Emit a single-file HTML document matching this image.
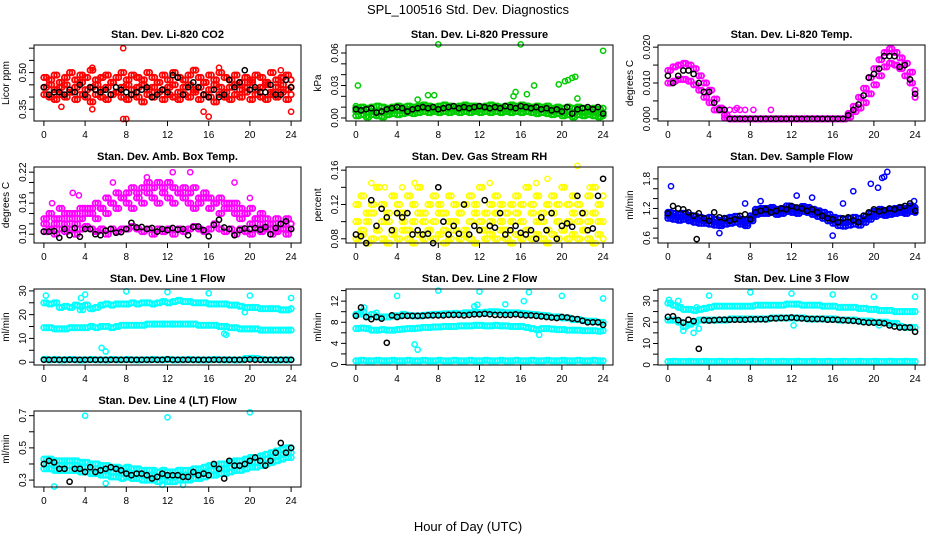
<!DOCTYPE html>
<html><head><meta charset="utf-8"><style>
html,body{margin:0;padding:0;background:#fff;}
svg{display:block;font-family:"Liberation Sans",sans-serif;}
</style></head><body>
<svg id="chart" width="936" height="540" viewBox="0 0 936 540" xmlns="http://www.w3.org/2000/svg">
<text x="468" y="14" text-anchor="middle" font-size="13">SPL_100516  Std. Dev. Diagnostics</text>
<text x="468" y="531" text-anchor="middle" font-size="13">Hour of Day (UTC)</text>
</svg>
<script>
// ---------- data (half-hour grid 0..24) ----------
const co2A=[0.48,0.47,0.49,0.46,0.48,0.50,0.47,0.49,0.48,0.51,0.47,0.48,0.49,0.46,0.48,0.50,0.47,0.49,0.48,0.47,0.50,0.48,0.46,0.49,0.47,0.50,0.48,0.47,0.49,0.51,0.48,0.46,0.49,0.47,0.50,0.48,0.47,0.49,0.46,0.48,0.47,0.49,0.48,0.46,0.50,0.47,0.48,0.49,0.47];
const co2B=[0.44,0.45,0.43,0.44,0.45,0.42,0.44,0.46,0.43,0.44,0.45,0.43,0.44,0.46,0.42,0.44,0.45,0.43,0.44,0.45,0.43,0.44,0.46,0.43,0.44,0.45,0.42,0.44,0.45,0.43,0.44,0.46,0.43,0.45,0.44,0.42,0.44,0.45,0.43,0.44,0.46,0.43,0.44,0.45,0.42,0.44,0.45,0.43,0.44];
const co2C=[0.41,0.40,0.39,0.41,0.40,0.42,0.39,0.41,0.40,0.38,0.41,0.40,0.39,0.41,0.42,0.40,0.39,0.41,0.40,0.38,0.41,0.40,0.42,0.39,0.41,0.40,0.39,0.41,0.40,0.42,0.39,0.41,0.40,0.38,0.41,0.40,0.39,0.41,0.40,0.42,0.39,0.41,0.40,0.39,0.41,0.40,0.42,0.39,0.41];
const co2Black=[0.44,0.41,0.42,0.42,0.41,0.43,0.42,0.45,0.41,0.44,0.43,0.42,0.43,0.41,0.44,0.43,0.42,0.41,0.42,0.43,0.44,0.40,0.41,0.43,0.42,0.49,0.48,0.41,0.44,0.46,0.44,0.41,0.40,0.43,0.40,0.41,0.47,0.44,0.46,0.51,0.43,0.44,0.42,0.42,0.45,0.41,0.41,0.47,0.44];
const co2OutX=[7.7,4.7,17,7.7,8,16,15.5,24,23,1.7,4.7];
const co2OutY=[0.60,0.52,0.52,0.31,0.31,0.32,0.34,0.34,0.51,0.36,0.35];

const presHi=[0.009,0.010,0.009,0.010,0.011,0.010,0.009,0.010,0.011,0.010,0.011,0.010,0.011,0.012,0.011,0.010,0.011,0.012,0.011,0.010,0.011,0.012,0.011,0.011,0.010,0.011,0.012,0.011,0.010,0.011,0.012,0.011,0.012,0.011,0.010,0.011,0.010,0.011,0.009,0.010,0.009,0.010,0.009,0.010,0.009,0.008,0.009,0.008,0.009];
const presMid=[0.006,0.007,0.005,0.006,0.006,0.005,0.006,0.007,0.007,0.007,0.008,0.007,0.008,0.009,0.008,0.008,0.008,0.009,0.008,0.008,0.008,0.009,0.008,0.008,0.008,0.009,0.008,0.009,0.008,0.008,0.008,0.009,0.008,0.009,0.008,0.007,0.008,0.007,0.006,0.007,0.005,0.006,0.005,0.006,0.005,0.006,0.005,0.004,0.005];
const presLo=[0.002,0.003,0.001,0.003,0.002,0.001,0.003,0.004,0.003,0.004,0.005,0.004,0.005,0.006,0.005,0.006,0.005,0.006,0.005,0.006,0.005,0.006,0.005,0.006,0.005,0.006,0.005,0.006,0.005,0.006,0.005,0.006,0.005,0.006,0.005,0.004,0.005,0.004,0.003,0.004,0.002,0.003,0.001,0.003,0.002,0.003,0.002,0.001,0.002];
const presBlack=[0.008,0.007,0.008,0.009,0.005,0.006,0.008,0.009,0.010,0.009,0.006,0.008,0.009,0.010,0.009,0.010,0.008,0.009,0.010,0.011,0.009,0.010,0.009,0.010,0.011,0.010,0.009,0.010,0.009,0.011,0.010,0.009,0.011,0.010,0.009,0.010,0.008,0.009,0.007,0.008,0.006,0.010,0.004,0.008,0.009,0.010,0.008,0.010,0.004];
const presOutX=[0.2,8,16,24,7,7.6,15.5,16.6,17.3,19.7,20.3,20.6,21,21.3,0,6,15.3,21.5];
const presOutY=[0.030,0.068,0.068,0.062,0.021,0.021,0.024,0.022,0.030,0.031,0.034,0.035,0.037,0.038,0.011,0.017,0.020,0.018];

const tempHi=[0.0135,0.0145,0.0150,0.0155,0.0150,0.0140,0.0120,0.0100,0.0080,0.0055,0.0030,0.0010,0,0,0,0,0,0,0,0,0,0,0,0,0,0,0,0,0,0,0,0,0,0,0,0.0015,0.0035,0.0060,0.0085,0.0115,0.0140,0.0165,0.0185,0.0195,0.0185,0.0170,0.0155,0.0130,0.0080];
const tempLo=[0.0100,0.0105,0.0110,0.0110,0.0105,0.0095,0.0080,0.0060,0.0045,0.0025,0.0025,0.0002,0,0,0,0,0,0,0,0,0,0,0,0,0,0,0,0,0,0,0,0,0,0,0,0.0005,0.0020,0.0030,0.0045,0.0070,0.0095,0.0120,0.0145,0.0155,0.0150,0.0140,0.0120,0.0100,0.0060];
const tempBlack=[0.0120,0.0100,0.0120,0.0135,0.0135,0.0125,0.0100,0.0075,0.0075,0.0045,0.0025,0.0025,0,0,0,0,0,0,0,0,0,0,0,0,0,0,0,0,0,0,0,0,0,0,0,0.0010,0.0025,0.0040,0.0065,0.0115,0.0125,0.0140,0.0175,0.0175,0.0175,0.0145,0.0150,0.0110,0.0070];
const tempOutX=[4.5,5,5.5,6,6.5,7,7.5,8.3,10,6.7];
const tempOutY=[0.0025,0.0025,0.0025,0.0025,0.0025,0.0025,0.0025,0.0025,0.0025,0.003];

const ambHi=[0.13,0.14,0.13,0.15,0.14,0.13,0.14,0.15,0.14,0.15,0.16,0.15,0.17,0.16,0.18,0.17,0.18,0.19,0.18,0.19,0.20,0.19,0.20,0.19,0.20,0.19,0.18,0.19,0.18,0.19,0.17,0.18,0.17,0.16,0.17,0.16,0.15,0.16,0.15,0.14,0.15,0.13,0.14,0.13,0.12,0.13,0.12,0.13,0.12];
const ambMid=[0.12,0.11,0.12,0.13,0.12,0.14,0.12,0.13,0.15,0.14,0.13,0.15,0.14,0.16,0.15,0.17,0.16,0.15,0.17,0.16,0.18,0.17,0.16,0.18,0.17,0.16,0.18,0.17,0.16,0.15,0.16,0.17,0.15,0.16,0.14,0.15,0.16,0.14,0.13,0.14,0.12,0.13,0.12,0.11,0.12,0.11,0.12,0.11,0.12];
const ambLo=[0.105,0.11,0.10,0.11,0.105,0.11,0.10,0.11,0.115,0.11,0.105,0.11,0.10,0.11,0.105,0.11,0.11,0.115,0.11,0.105,0.11,0.10,0.11,0.105,0.11,0.10,0.11,0.105,0.11,0.115,0.11,0.105,0.11,0.12,0.11,0.105,0.11,0.10,0.11,0.105,0.10,0.11,0.105,0.11,0.10,0.105,0.11,0.10,0.11];
const ambBlack=[0.105,0.105,0.106,0.093,0.110,0.098,0.112,0.095,0.110,0.110,0.100,0.098,0.107,0.110,0.103,0.104,0.110,0.122,0.113,0.114,0.110,0.112,0.105,0.110,0.108,0.112,0.109,0.110,0.098,0.114,0.115,0.108,0.096,0.118,0.128,0.113,0.110,0.098,0.108,0.111,0.110,0.112,0.109,0.114,0.100,0.112,0.120,0.125,0.110];
const ambOutX=[0.8,2.8,3.4,6.7,10,12.5,14.2,18.5,20];
const ambOutY=[0.16,0.18,0.175,0.20,0.21,0.22,0.22,0.20,0.17];

const rhA=[0.12,0.13,0.11,0.12,0.14,0.12,0.11,0.13,0.12,0.11,0.13,0.12,0.14,0.11,0.12,0.13,0.12,0.11,0.13,0.12,0.11,0.12,0.13,0.12,0.14,0.11,0.12,0.13,0.12,0.11,0.12,0.13,0.12,0.14,0.12,0.13,0.11,0.12,0.13,0.12,0.14,0.12,0.13,0.12,0.11,0.13,0.14,0.12,0.13];
const rhB=[0.10,0.09,0.10,0.11,0.09,0.10,0.10,0.09,0.11,0.10,0.09,0.10,0.11,0.10,0.09,0.10,0.11,0.09,0.10,0.10,0.11,0.09,0.10,0.11,0.10,0.09,0.10,0.11,0.10,0.09,0.10,0.11,0.10,0.09,0.11,0.10,0.10,0.09,0.11,0.10,0.09,0.10,0.11,0.10,0.09,0.10,0.11,0.10,0.10];
const rhC=[0.08,0.085,0.075,0.08,0.09,0.08,0.075,0.085,0.08,0.09,0.08,0.075,0.085,0.08,0.09,0.08,0.085,0.075,0.08,0.09,0.08,0.085,0.08,0.075,0.09,0.08,0.085,0.08,0.09,0.08,0.075,0.085,0.08,0.09,0.08,0.085,0.08,0.075,0.085,0.08,0.09,0.08,0.085,0.08,0.09,0.08,0.075,0.085,0.08];
const rhBlack=[0.085,0.083,0.075,0.125,0.095,0.115,0.105,0.090,0.110,0.105,0.110,0.085,0.090,0.085,0.086,0.075,0.140,0.100,0.085,0.095,0.086,0.120,0.085,0.095,0.090,0.125,0.095,0.093,0.110,0.085,0.090,0.095,0.087,0.085,0.090,0.080,0.105,0.090,0.110,0.080,0.095,0.098,0.094,0.130,0.110,0.090,0.092,0.130,0.150];
const rhOutX=[1.5,2.8,4.5,5.7,13,17.5,18.6,21.5,22.7];
const rhOutY=[0.145,0.14,0.14,0.145,0.145,0.145,0.15,0.165,0.14];

const flowHi=[1.12,1.10,1.08,1.10,1.06,1.05,1.02,1.00,1.02,0.98,0.96,1.00,1.02,1.04,0.98,0.95,1.05,1.18,1.20,1.20,1.22,1.18,1.20,1.25,1.22,1.20,1.24,1.22,1.18,1.15,1.12,1.08,1.02,1.00,0.98,1.00,1.02,1.00,1.05,1.10,1.14,1.18,1.16,1.18,1.20,1.22,1.20,1.25,1.22];
const flowMid=[1.06,1.04,1.02,1.04,1.00,0.98,0.96,0.95,0.95,0.92,0.90,0.94,0.96,0.98,0.93,0.90,1.00,1.13,1.15,1.15,1.17,1.13,1.15,1.19,1.17,1.15,1.19,1.17,1.13,1.10,1.06,1.01,0.96,0.92,0.91,0.93,0.95,0.93,0.98,1.04,1.09,1.13,1.11,1.13,1.15,1.17,1.15,1.19,1.17];
const flowLo=[1.00,0.98,0.96,0.98,0.95,0.92,0.90,0.90,0.88,0.86,0.85,0.88,0.90,0.92,0.88,0.85,0.95,1.08,1.10,1.10,1.12,1.08,1.10,1.14,1.12,1.10,1.14,1.12,1.08,1.04,1.00,0.95,0.90,0.85,0.84,0.86,0.88,0.86,0.92,0.98,1.04,1.08,1.06,1.08,1.10,1.12,1.10,1.14,1.12];
const flowBlack=[1.10,1.25,1.20,1.18,1.12,1.05,1.10,1.00,0.95,1.12,1.02,1.00,0.95,0.98,1.05,1.08,0.98,1.12,1.15,1.18,1.12,1.15,1.20,1.18,1.25,1.22,1.20,1.15,1.18,1.12,1.05,1.00,0.98,0.92,1.00,1.02,0.96,0.92,1.05,1.12,1.18,1.14,1.16,1.20,1.18,1.22,1.25,1.30,1.15];
const flowOutX=[0.3,19.7,20.4,20.8,21.0,21.3,18,14,12.5,17,16,5,7.5,9,23.9];
const flowOutY=[1.65,1.70,1.62,1.82,1.84,1.94,1.55,1.42,1.46,1.30,0.65,0.70,1.30,1.35,1.35];
const flowBlackOutX=[2.8];
const flowBlackOutY=[0.58];

const l1Top=[25,24.5,25,23,23.5,23,24,23.5,24,22.5,23,24,24.5,24,24.5,24.5,24.5,25,24.5,25,25,24.5,25,25.5,25,25.5,26,25.5,25.5,25,25,25,24.5,24.5,24.5,24.5,24,24,23.5,23,23,23,22.5,22.5,22.5,22.5,22,22,22.5];
const l1Mid=[14.5,14.5,14,14,14,14.5,14.5,14.5,14.5,15,14.5,15,15,14.5,15,15.5,15.5,15.5,15.5,15.5,16,16,16,16,16,16,16,16,16,16,15.5,15.5,15.5,15.5,15,15,14.5,14.5,14,14,14,14,13.5,13.5,13.5,13.5,13.5,13.5,13.5];
const l1Bot=[1.2,1.0,1.1,0.9,1.0,1.1,1.0,0.9,1.0,1.1,1.0,1.0,0.9,1.1,1.0,1.0,1.1,1.0,0.9,1.0,1.0,1.1,1.0,1.0,1.1,0.9,1.0,1.0,1.1,1.0,1.0,0.9,1.0,1.1,1.0,1.0,1.0,0.9,1.0,1.5,1.6,1.5,1.2,1.0,1.0,0.9,1.0,1.0,1.0];
const l1Black=[1,1,1,1,1,1,1,1,1,1,1,1,1,1,1,1,1,1,1,1,1,1,1,1,1.2,1,1,1,1,1,1,1,1,1,1,1,1,1,1,1,1.1,1,1,1,1,1,1,1,1];
const l1OutX=[0.2,4,3.6,8,12,16,20,24,5.6,6,17.5,17.7,19.5,3.5,3.8];
const l1OutY=[28,28.5,27,29.8,29.5,29,28,27,6,4.5,12,11.5,21,22,22];

const l2Top=[9.5,10,9,9.5,9,9,9,9.2,9.2,9.5,9.3,9.2,9.2,9.3,9.4,9.5,9.5,9.6,9.6,9.7,9.6,9.8,9.8,9.9,9.8,9.9,10,10,9.9,9.8,9.8,9.8,9.7,9.6,9.5,9.4,9.3,9.2,9.0,9.0,8.8,8.8,8.5,8.5,8.3,8.2,8.2,8.0,8.0];
const l2Mid=[6.8,6.9,6.8,6.5,6.5,6.6,6.5,6.5,6.6,6.7,6.8,6.8,6.9,7.0,7.0,7.1,7.1,7.2,7.2,7.2,7.3,7.3,7.3,7.4,7.4,7.3,7.3,7.4,7.3,7.3,7.2,7.2,7.2,7.0,6.8,6.6,6.8,6.8,6.7,6.6,6.6,6.5,6.5,6.5,6.4,6.4,6.4,6.3,6.4];
const l2Bot=[0.7,0.8,0.7,0.7,0.8,0.7,0.7,0.8,0.7,0.7,0.8,0.7,0.7,0.8,0.7,0.7,0.8,0.7,0.7,0.8,0.7,0.7,0.8,0.7,0.7,0.8,0.7,0.7,0.8,0.7,0.7,0.8,0.7,0.7,0.8,0.7,0.7,0.8,0.7,0.7,0.8,0.7,0.7,0.8,0.7,0.7,0.8,0.7,0.7];
const l2Black=[9.2,10.8,9.0,8.6,9.0,8.7,4.1,9.3,9.0,9.2,9.2,9.2,9.2,9.2,9.3,9.3,9.3,9.3,9.4,9.4,9.4,9.3,9.4,9.5,9.5,9.6,9.5,9.4,9.4,9.4,9.4,9.5,9.4,9.3,9.3,9.2,9.1,9.0,8.9,8.8,9.0,8.9,8.7,8.6,8.3,8.0,8.0,8.0,7.5];
const l2OutX=[0.5,2,4,8,12,16.8,20,24,5.7,6,11.5,11.8,14.5,16.3,0.8,17.8];
const l2OutY=[9.5,9.8,13,14,13.8,13.7,13,12.5,3.8,2.8,11,11.3,11.4,12,10.8,5.6];

const l3Top=[29,28,27,26,26,25.5,26,26.5,27,27.5,27.5,27.5,27.5,27.5,27.5,27.5,27.5,28,28,28,28,28,28,28.5,28.5,28.5,28,28,28,28,27.5,27.5,27.5,27,27,27,27,26.5,26.5,26,26,25.5,25.5,25.5,25,25,25,25,25];
const l3Mid=[21,21,20,18,19,20,21,21,21,21,21,21,21.5,21.5,21.5,21.5,21.5,21.5,21.5,21.5,22,22,22,22,22,22,22,21.5,21.5,21.5,21.5,21.5,21.5,21,21,21,21,20.5,20.5,20.5,20,20,20,19.5,19.5,18,17.5,17.5,17.5];
const l3Bot=[1.5,1.6,1.5,1.5,1.6,1.5,1.5,1.6,1.5,1.5,1.6,1.5,1.5,1.6,1.5,1.5,1.6,1.5,1.5,1.6,1.5,1.5,1.6,1.5,1.5,1.6,1.5,1.5,1.6,1.5,1.5,1.6,1.5,1.5,1.6,1.5,1.5,1.6,1.5,1.5,1.6,1.5,1.5,1.6,1.5,1.5,1.6,1.5,1.5];
const l3Black=[22.5,22.8,21.0,19.8,21.2,20.5,7.5,21.0,20.8,21.0,21.2,21.2,21.2,21.2,21.2,21.2,21.3,21.3,21.4,21.3,21.8,21.8,22.0,22.0,22.2,22.0,21.8,21.6,21.5,21.5,21.5,21.2,21.2,21.2,21.0,20.8,20.6,20.4,20.0,19.8,19.8,19.8,19.5,18.5,18.0,17.5,17.5,17.5,15.5];
const l3OutX=[0.1,4,8,12,16,20,24,1.5,2.5,3,2.8,20.5,12.2,1];
const l3OutY=[30.5,32.5,34,33.5,33,32,32,16,15,17,27,18.5,18.5,30];

const l4Hi=[0.43,0.43,0.42,0.42,0.42,0.42,0.42,0.41,0.41,0.40,0.40,0.39,0.39,0.38,0.38,0.37,0.38,0.37,0.37,0.36,0.36,0.36,0.35,0.36,0.35,0.35,0.36,0.36,0.36,0.37,0.37,0.38,0.39,0.39,0.40,0.40,0.41,0.42,0.42,0.43,0.44,0.44,0.45,0.46,0.47,0.48,0.49,0.50,0.50];
const l4Mid=[0.40,0.40,0.39,0.39,0.39,0.39,0.39,0.38,0.38,0.37,0.37,0.36,0.36,0.35,0.35,0.34,0.35,0.34,0.34,0.33,0.33,0.33,0.32,0.33,0.32,0.32,0.33,0.33,0.33,0.34,0.34,0.35,0.36,0.36,0.37,0.37,0.38,0.39,0.39,0.40,0.41,0.41,0.42,0.43,0.44,0.45,0.46,0.47,0.47];
const l4Lo=[0.37,0.37,0.36,0.36,0.36,0.36,0.36,0.35,0.35,0.34,0.34,0.33,0.33,0.32,0.32,0.31,0.32,0.31,0.31,0.30,0.30,0.30,0.29,0.30,0.29,0.29,0.30,0.30,0.30,0.31,0.31,0.32,0.33,0.33,0.34,0.34,0.35,0.36,0.36,0.37,0.38,0.38,0.39,0.40,0.41,0.42,0.43,0.44,0.44];
const l4Black=[0.40,0.42,0.41,0.37,0.37,0.29,0.37,0.37,0.35,0.38,0.35,0.36,0.37,0.38,0.37,0.36,0.34,0.33,0.34,0.34,0.33,0.31,0.32,0.34,0.33,0.33,0.33,0.32,0.32,0.35,0.33,0.34,0.33,0.40,0.37,0.31,0.42,0.39,0.39,0.40,0.42,0.44,0.42,0.39,0.42,0.47,0.53,0.47,0.50];
const l4OutX=[4,12,20,1,6,11.5,13.5];
const l4OutY=[0.70,0.69,0.72,0.26,0.28,0.27,0.27];

const xTickLabels=["0","4","8","12","16","20","24"];
const xTickValues=[0,4,8,12,16,20,24];

// ---------- layout ----------
const NS="http://www.w3.org/2000/svg";
const svg=document.getElementById('chart');
const colLeft=[34,346,658], rowTop=[45,167,289,411], PW=267, PH=76;
const XMIN=-0.96, XMAX=24.96;
function gridHours(n){const a=[];for(let i=0;i<n;i++)a.push(i*0.5);return a;}

const panels=[
 {id:'co2',title:'Stan. Dev. Li-820 CO2',yl:'Licor ppm',c:0,r:0,dom:[0.302,0.613],ticks:[0.35,0.40,0.45,0.50,0.55,0.60],labels:[[0.35,'0.35'],[0.50,'0.50']],
  col:'#ff0000',clouds:[co2A,co2B,co2C],black:co2Black,ox:co2OutX,oy:co2OutY},
 {id:'pressure',title:'Stan. Dev. Li-820 Pressure',yl:'kPa',c:1,r:0,dom:[-0.0028,0.0674],ticks:[0,0.01,0.02,0.03,0.04,0.05,0.06],labels:[[0,'0.00'],[0.03,'0.03'],[0.06,'0.06']],
  col:'#00cc00',clouds:[presHi,presMid,presLo],black:presBlack,ox:presOutX,oy:presOutY},
 {id:'temp',title:'Stan. Dev. Li-820 Temp.',yl:'degrees C',c:2,r:0,dom:[-0.0006,0.0206],ticks:[0,0.005,0.01,0.015,0.02],labels:[[0,'0.000'],[0.01,'0.010'],[0.02,'0.020']],
  col:'#ff00ff',clouds:[tempHi,tempLo],black:tempBlack,ox:tempOutX,oy:tempOutY},
 {id:'amb-box-temp',title:'Stan. Dev. Amb. Box Temp.',yl:'degrees C',c:0,r:1,dom:[0.083,0.230],ticks:[0.10,0.12,0.14,0.16,0.18,0.20,0.22],labels:[[0.10,'0.10'],[0.16,'0.16'],[0.22,'0.22']],
  col:'#ff00ff',clouds:[ambHi,ambMid,ambLo],black:ambBlack,ox:ambOutX,oy:ambOutY},
 {id:'gas-rh',title:'Stan. Dev. Gas Stream RH',yl:'percent',c:1,r:1,dom:[0.0751,0.1637],ticks:[0.08,0.10,0.12,0.14,0.16],labels:[[0.08,'0.08'],[0.12,'0.12'],[0.16,'0.16']],
  col:'#ffff00',clouds:[rhA,rhB,rhC],black:rhBlack,ox:rhOutX,oy:rhOutY},
 {id:'sample-flow',title:'Stan. Dev. Sample Flow',yl:'ml/min',c:2,r:1,dom:[0.5,2.04],ticks:[0.6,0.8,1.0,1.2,1.4,1.6,1.8],labels:[[0.6,'0.6'],[1.2,'1.2'],[1.8,'1.8']],
  col:'#0000ff',clouds:[flowHi,flowMid,flowLo],black:flowBlack,ox:flowOutX,oy:flowOutY,bx:flowBlackOutX,by:flowBlackOutY},
 {id:'line1-flow',title:'Stan. Dev. Line 1 Flow',yl:'ml/min',c:0,r:2,dom:[-1.2,30.8],ticks:[0,5,10,15,20,25,30],labels:[[0,'0'],[10,'10'],[20,'20'],[30,'30']],
  col:'#00ffff',clouds:[l1Top,l1Mid,l1Bot],black:l1Black,ox:l1OutX,oy:l1OutY,noMix:true},
 {id:'line2-flow',title:'Stan. Dev. Line 2 Flow',yl:'ml/min',c:1,r:2,dom:[-0.1,14.3],ticks:[0,2,4,6,8,10,12,14],labels:[[0,'0'],[4,'4'],[8,'8'],[12,'12']],
  col:'#00ffff',clouds:[l2Top,l2Mid,l2Bot],black:l2Black,ox:l2OutX,oy:l2OutY,noMix:true},
 {id:'line3-flow',title:'Stan. Dev. Line 3 Flow',yl:'ml/min',c:2,r:2,dom:[-0.1,35.6],ticks:[0,5,10,15,20,25,30,35],labels:[[0,'0'],[10,'10'],[20,'20'],[30,'30']],
  col:'#00ffff',clouds:[l3Top,l3Mid,l3Bot],black:l3Black,ox:l3OutX,oy:l3OutY,noMix:true},
 {id:'line4-flow',title:'Stan. Dev. Line 4 (LT) Flow',yl:'ml/min',c:0,r:3,dom:[0.257,0.729],ticks:[0.3,0.4,0.5,0.6,0.7],labels:[[0.3,'0.3'],[0.5,'0.5'],[0.7,'0.7']],
  col:'#00ffff',clouds:[l4Hi,l4Mid,l4Lo],black:l4Black,ox:l4OutX,oy:l4OutY}
];

function mk(tag,attrs,parent){const e=document.createElementNS(NS,tag);for(const k in attrs)e.setAttribute(k,attrs[k]);(parent||svg).appendChild(e);return e;}

panels.forEach(p=>{
  const L=colLeft[p.c], T=rowTop[p.r];
  const sx=v=>L+(v-XMIN)/(XMAX-XMIN)*PW;
  const sy=v=>T+PH-(v-p.dom[0])/(p.dom[1]-p.dom[0])*PH;
  const g=mk('g',{});
  
  
  const title=mk('text',{x:L+PW/2,y:T-7,'text-anchor':'middle','font-size':'11','font-weight':'bold'},g);
  title.textContent=p.title;
  
  
  const yt=mk('text',{transform:`translate(${L-25},${T+PH/2}) rotate(-90)`,'text-anchor':'middle','font-size':'10'},g);
  yt.textContent=p.yl;
  
  
  const pts=mk('g',{fill:'none'},g);
  
  
  const dot=(x,y,col,name,sw,r)=>{
    const c=mk('circle',{cx:sx(x).toFixed(1),cy:sy(y).toFixed(1),r:r||'2.6',stroke:col,'stroke-width':sw||'1.5'},pts);
    
    
  };
  const n=p.clouds.length;
  p.clouds.forEach((arr,k)=>{const hrs=gridHours(arr.length);arr.forEach((v,i)=>{
    dot(hrs[i],v,p.col,'point-'+p.id,'1.8','2.7');
    if(i<arr.length-1){
      const other=p.noMix?arr:p.clouds[(k+1)%n];
      dot(hrs[i]+0.25,other[i],p.col,'point-'+p.id,'1.8','2.7');
    }
  });});
  p.ox.forEach((x,i)=>dot(x,p.oy[i],p.col,'outlier-point-'+p.id));
  const bh=gridHours(p.black.length);
  p.black.forEach((v,i)=>dot(bh[i],v,'#000','black-point-'+p.id));
  if(p.bx)p.bx.forEach((x,i)=>dot(x,p.by[i],'#000','black-point-'+p.id));
  const box=mk('rect',{x:L,y:T,width:PW,height:PH,fill:'none',stroke:'#000','stroke-width':'1'},g);
  
  
  const xa=mk('g',{'font-size':'10'},g);
  
  
  mk('line',{x1:sx(0),x2:sx(24),y1:T+PH,y2:T+PH,stroke:'#000'},xa);
  xTickValues.forEach((v,i)=>{
    mk('line',{x1:sx(v),x2:sx(v),y1:T+PH,y2:T+PH+5,stroke:'#000'},xa);
    const t=mk('text',{x:sx(v),y:T+PH+17,'text-anchor':'middle'},xa);
    t.textContent=xTickLabels[i];
    
    
  });
  const ya=mk('g',{'font-size':'10'},g);
  
  
  mk('line',{x1:L,x2:L,y1:sy(p.ticks[0]),y2:sy(p.ticks[p.ticks.length-1]),stroke:'#000'},ya);
  p.ticks.forEach(v=>mk('line',{x1:L-5,x2:L,y1:sy(v),y2:sy(v),stroke:'#000'},ya));
  p.labels.forEach(([v,s])=>{
    const t=mk('text',{transform:`translate(${L-8},${sy(v)}) rotate(-90)`,'text-anchor':'middle'},ya);
    t.textContent=s;
    
    
  });
});
</script>
</body></html>
